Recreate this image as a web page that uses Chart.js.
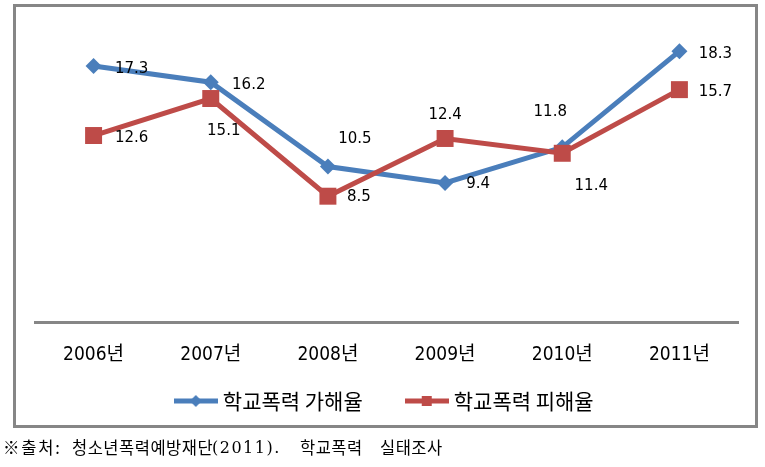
<!DOCTYPE html>
<html><head><meta charset="utf-8">
<script src="https://cdn.jsdelivr.net/npm/chart.js@4"></script>
<style>
html,body{margin:0;padding:0;background:#fff;}
#wrap{position:relative;width:765px;height:467px;overflow:hidden;}
#c{position:absolute;left:0;top:0;}
#box{position:absolute;left:13px;top:4px;width:745px;height:424px;box-sizing:border-box;border:3px solid #868686;pointer-events:none;}
#src{position:absolute;left:0;top:437px;width:765px;height:22px;font-size:16.5px;line-height:20px;font-family:"Noto Sans CJK KR";color:#000;white-space:nowrap;letter-spacing:0.5px;}
#src span{position:absolute;top:0;}
#src .n{font-family:"DejaVu Serif";font-size:16px;letter-spacing:1.5px;top:1px;}
</style></head>
<body><div id="wrap"><canvas id="c" width="765" height="467"></canvas><div id="box"></div>
<div id="src"><span style="left:3px;letter-spacing:1.8px">※출처:</span> <span style="left:72px">청소년폭력예방재단</span><span class="n" style="left:212px">(2011).</span> <span style="left:300px">학교폭력</span> <span style="left:380px">실태조사</span></div></div>
<script>
const categories = ['2006년', '2007년', '2008년', '2009년', '2010년', '2011년'];
const offenderRate = [17.3, 16.2, 10.5, 9.4, 11.8, 18.3];
const victimRate = [12.6, 15.1, 8.5, 12.4, 11.4, 15.7];
const seriesNames = ['학교폭력 가해율', '학교폭력 피해율'];

const BLUE = '#4a7ebb';
const RED = '#be4b48';

function makeIcon(color, shape) {
  const c = document.createElement('canvas');
  c.width = 44; c.height = 14;
  const g = c.getContext('2d');
  g.strokeStyle = color; g.lineWidth = 5;
  g.beginPath(); g.moveTo(0, 7); g.lineTo(44, 7); g.stroke();
  g.fillStyle = color;
  g.beginPath();
  if (shape === 'diamond') {
    g.moveTo(22, 1); g.lineTo(28, 7); g.lineTo(22, 13); g.lineTo(16, 7); g.closePath();
  } else {
    g.rect(17, 2, 10, 10);
  }
  g.fill();
  return c;
}
const legendIcons = [makeIcon(BLUE, 'diamond'), makeIcon(RED, 'square')];

const labelPlugin = {
  id: 'valueLabels',
  afterLayout(chart) {
    const lg = chart.legend;
    if (lg) { lg.top -= 21; lg.bottom -= 21; }
  },
  afterDatasetsDraw(chart, args, opts) {
    const ctx = chart.ctx;
    ctx.save();
    ctx.font = '15px "DejaVu Sans"';
    ctx.fillStyle = '#000';
    ctx.textAlign = 'center';
    ctx.textBaseline = 'middle';
    chart.data.datasets.forEach((ds, di) => {
      const meta = chart.getDatasetMeta(di);
      const offs = opts.offsets[di];
      meta.data.forEach((pt, i) => {
        const o = offs[i];
        ctx.fillText(ds.data[i].toFixed(1), pt.x + o[0], pt.y + o[1]);
      });
    });
    ctx.restore();
  }
};

new Chart(document.getElementById('c'), {
  type: 'line',
  data: {
    labels: categories,
    datasets: [
      {
        label: seriesNames[0], data: offenderRate, order: 1,
        borderColor: BLUE, backgroundColor: BLUE, borderWidth: 5,
        pointStyle: 'rectRot', pointRadius: 8, pointBorderWidth: 0, pointBackgroundColor: BLUE,
        tension: 0, fill: false
      },
      {
        label: seriesNames[1], data: victimRate, order: 0,
        borderColor: RED, backgroundColor: RED, borderWidth: 5,
        pointStyle: 'rect', pointRadius: 12, pointBorderWidth: 0, pointBackgroundColor: RED,
        tension: 0, fill: false
      }
    ]
  },
  options: {
    responsive: false,
    animation: false,
    events: [],
    layout: { padding: { left: 35, right: 27, top: 26, bottom: 24.5 } },
    scales: {
      x: {
        offset: true,
        grid: { display: false, drawTicks: false },
        border: { display: true, color: '#868686', width: 3 },
        ticks: { padding: 22, color: '#000', font: { family: "'DejaVu Sans Condensed', 'Noto Sans CJK KR'", size: 19 } },
        afterFit(s) { s.height = 42; }
      },
      y: { display: false, min: 0, max: 20 }
    },
    plugins: {
      legend: {
        position: 'bottom',
        labels: {
          usePointStyle: true,
          pointStyleWidth: 33,
          padding: 47.5,
          color: '#000',
          font: { family: "'Noto Sans CJK KR'", size: 21 },
          sort: (a, b) => a.datasetIndex - b.datasetIndex,
          generateLabels(chart) {
            const items = Chart.defaults.plugins.legend.labels.generateLabels(chart);
            items.forEach(it => { it.pointStyle = legendIcons[it.datasetIndex]; });
            return items;
          }
        }
      },
      tooltip: { enabled: false },
      valueLabels: {
        offsets: [
          [[38, 3], [38, 3], [27, -27], [33, 1], [-12, -35], [36, 3]],
          [[38, 3], [13, 33], [31, 1], [0, -23], [29, 33], [36, 2]]
        ]
      }
    }
  },
  plugins: [labelPlugin]
});
</script>
</body></html>
